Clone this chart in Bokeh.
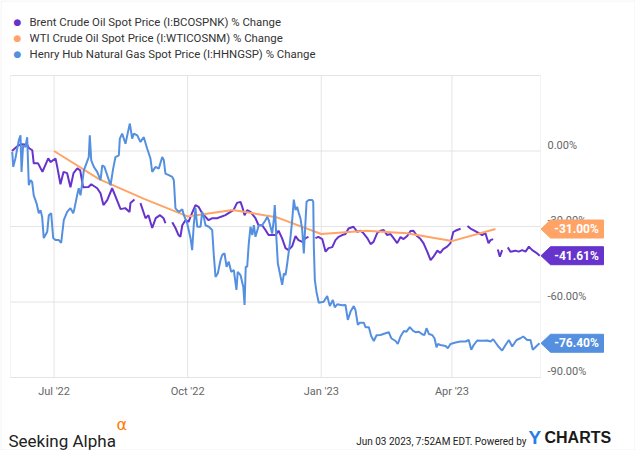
import math
import pandas as pd
from bokeh.plotting import figure
from bokeh.models import Range1d, Label, PolyAnnotation, BoxAnnotation
from bokeh.core.properties import value
from bokeh.embed import file_html
from bokeh.resources import INLINE

NAN = float("nan")
START = "2022-06-01"   # day 0 of the day offsets below; left edge of the plot area
END = "2023-06-01"     # right edge of the plot area

# Brent Crude Oil Spot Price % change: (days since START, % change); NAN = missing data
brent = [
    (1, 0.0), (5.5, 2.3), (8, 2.7), (11.5, 2.5), (12.6, 1.2), (15, 0.3), (16, -4.9), (19, -4.9), (22, -8.3), (23, -6.9),
    (26, -2.9), (27.5, -4.4), (31, -3.0), (32, -5.7), (34.4, -13.2), (36.5, -8.3), (39, -8.8), (41.3, -14.4), (43.4, -8.8), (46, -6.9),
    (48, -7.7), (50, -14.4), (53.7, -14.3), (55.6, -13.2), (59.7, -14.8), (62, -16.8), (64, -21.5), (66.6, -19.5), (70, -14.8), (72.3, -18.0),
    (75.8, -23.1), (79, -22.7), (82, -24.2), (82.6, -20.7), (85.4, -19.3), (87, NAN), (89.5, -20.7), (93, -26.7), (95, -25.5), (97.6, -30.6),
    (100, -26.7), (103, -25.5), (105.4, -26.7), (106.7, -28.7), (109, NAN), (111.4, -28.3), (113.6, -30.6), (115.7, -33.4), (117, -34.1), (118.3, -29.5),
    (120.5, -27.5), (122.6, -28.2), (125, -24.7), (127.4, -21.5), (129.5, -22.2), (132, -24.7), (134.3, -26.2), (136.4, -27.5), (139, -26.7), (142.3, -26.7),
    (144.6, -26.2), (148, -25.5), (151.5, -24.2), (153.6, -23.5), (156, -20.6), (158.4, -20.2), (159.6, -22.2), (161.2, -25.5), (163, -23.5), (165.3, -24.2),
    (168.7, -26.7), (170.8, -29.5), (173.3, -29.5), (175.6, -31.4), (177.7, -33.4), (179, -33.4), (182.5, -33.4), (184.6, -31.7), (187, -34.6), (189.4, -38.6),
    (191.5, -39.4), (194, -37.8), (196.3, -33.8), (198.3, -35.4), (201, -36.1), (203.2, -34.6), (205.2, -34.1), (207.5, NAN), (210, -34.6), (212, -34.1),
    (214.7, -35.0), (217, -40.0), (219, -38.6), (221.6, -38.2), (223.8, -35.4), (226, -34.1), (228.4, -33.4), (230.7, -33.0), (232.8, -30.8), (236.2, -30.1),
    (238.8, -32.1), (241, -31.7), (243, -32.6), (245.7, -34.6), (248, -37.0), (250, -36.1), (252.5, -32.6), (254.8, -31.7), (257, -31.4), (259.4, -33.4),
    (261.7, -33.0), (263.8, -34.6), (266.3, -36.6), (268.6, -34.2), (270.7, -35.0), (273.2, -33.8), (275.5, -31.8), (277.5, -31.7), (280, -33.8), (282.4, -35.0),
    (284.4, -36.6), (287, -40.0), (289.3, -43.4), (291.3, -42.0), (294, -39.6), (296, -40.5), (298, -39.0), (300.7, -38.0), (303, -36.6), (305, -32.1),
    (306.4, -31.7), (308.5, -31.2), (310, -30.9), (312, NAN), (314.7, -29.8), (316.8, -30.8), (318.8, -31.4), (322.3, -32.5), (324.8, -33.4), (327, -32.6),
    (329.2, -36.6), (330.6, -35.4), (332.4, -35.0), (334, NAN), (335.6, -39.1), (337, -42.0), (338.6, -39.4), (340.5, NAN), (342.5, -38.3), (344.3, -40.0),
    (347.8, -39.6), (350, -40.0), (352.4, -39.4), (354.7, -40.0), (357, -38.0), (359.3, -39.4), (362.7, -40.7), (364.5, -41.61),
]

# WTI Crude Oil Spot Price % change (monthly)
wti_dates = ["2022-07-01", "2022-08-01", "2022-09-01", "2022-10-01", "2022-11-01", "2022-12-01",
             "2023-01-01", "2023-02-01", "2023-03-01", "2023-04-01", "2023-05-01"]
wti_values = [0.0, -11.2, -19.0, -26.0, -23.4, -26.3, -33.0, -31.7, -32.7, -35.8, -31.0]

# Henry Hub Natural Gas Spot Price % change: (days since START, % change)
henry = [
    (1.2, -0.4), (1.9, -6.3), (3.4, -2.9), (5.7, 4.2), (6.9, 6.2), (7.6, -8.3), (8.7, 2.3), (10.3, 1.6), (11.5, 5.5), (12.6, -13.6),
    (13.8, -11.6), (14.9, -12.3), (16, -17.6), (17.9, -20.7), (19.5, -24.7), (20.7, -23.5), (21.8, -26.2), (22.9, -34.6), (25.3, -32.1), (26.4, -25.5),
    (28, -24.7), (29.4, -34.6), (31, -35.4), (33.3, -35.4), (34.9, -36.5), (36.7, -27.5), (39, -24.2), (41.3, -22.7), (43.2, -24.7), (44.1, -22.7),
    (45.9, -17.6), (47, -14.8), (48.2, -17.6), (49.4, -12.8), (50.5, -7.7), (52.3, -4.9), (53.9, -2.4), (54.6, 6.2), (55.6, -3.7), (57.4, -6.3),
    (59.7, -8.3), (62, -11.6), (63.2, -5.7), (64.7, -6.3), (66.6, -9.6), (68.9, -13.6), (70.7, -7.0), (72.3, -2.4), (74.6, -1.7), (75.3, 4.9),
    (76.9, 6.9), (79.2, 2.9), (80.4, 6.2), (82.2, 10.9), (83.8, 4.9), (84.9, 6.9), (87.3, 6.2), (89.5, 3.6), (91.8, 5.5), (94.1, 1.0),
    (96.4, -3.0), (97.6, -8.3), (99.9, -6.3), (102.1, -7.0), (104.5, -2.4), (105.6, -3.7), (106.7, -9.0), (109, -9.6), (111.4, -10.3), (112.5, -11.6),
    (113.6, -22.8), (115.9, -24.2), (118.3, -23.2), (119.4, -25.5), (121.7, -28.8), (124, -34.7), (125.1, -39.4), (126.2, -29.5), (127.4, -22.7), (128.6, -30.1),
    (130.9, -30.1), (132, -24.2), (133.1, -26.2), (134.3, -29.5), (136.6, -30.1), (138.9, -31.4), (140, -41.3), (141.2, -50.0), (142.8, -48.6), (144.6, -43.4),
    (145.8, -41.3), (147.4, -40.7), (148.8, -46.0), (150.3, -44.0), (152, -48.0), (153.8, -47.3), (155.6, -55.2), (156.5, -48.0), (158.4, -49.3), (160.3, -53.9),
    (161.2, -61.2), (162, -46.0), (163, -46.0), (164.1, -36.7), (165.3, -30.1), (166.5, -33.4), (167.6, -29.5), (168.7, -34.1), (171, -29.5), (173.3, -29.5),
    (175.6, -27.5), (176.8, -26.2), (177.9, -27.5), (180.2, -32.8), (181.3, -27.5), (182, -21.5), (183.2, -35.4), (184.1, -44.6), (185.5, -48.6), (187.1, -53.2),
    (188.3, -48.6), (189.4, -49.3), (190.6, -44.6), (192.4, -36.7), (194, -27.5), (195.1, -19.3), (196.3, -23.5), (197.4, -22.2), (198.6, -24.8), (199.7, -26.8),
    (200.9, -31.4), (202, -40.7), (203.2, -27.5), (203.9, -20.2), (205.4, -19.5), (207.8, -19.5), (208.5, -20.2), (208.9, -38.1), (209.6, -51.3), (210.7, -55.9),
    (212.3, -60.3), (215.7, -59.9), (218.1, -57.6), (219.9, -61.6), (222, -59.2), (223.3, -62.1), (225, -60.9), (228.4, -61.3), (230.7, -61.2), (232.3, -67.1),
    (234.2, -63.8), (236.4, -61.6), (237.6, -63.2), (239.2, -69.1), (240.6, -68.2), (243.3, -68.2), (244.5, -70.0), (246.8, -70.0), (248.4, -73.5), (250.2, -75.5),
    (252.1, -73.2), (254.8, -73.1), (258.3, -72.4), (260.5, -72.0), (262.2, -74.4), (265.2, -75.5), (266.7, -76.7), (268.6, -73.7), (270.9, -71.5), (272.7, -71.8),
    (275, -70.0), (277.3, -71.5), (278.9, -72.0), (281.2, -71.8), (283.5, -72.8), (285.1, -73.1), (286.5, -70.4), (288.1, -72.7), (290.4, -73.1), (292, -74.4),
    (293.4, -78.0), (294.3, -76.7), (296.1, -77.1), (299.6, -77.5), (301.2, -78.4), (303, -76.7), (306.5, -76.1), (309.9, -75.7), (313.4, -75.7), (315.6, -75.1),
    (317.3, -79.0), (319.1, -77.0), (321.4, -75.3), (324.9, -75.4), (328.3, -75.3), (330.6, -75.7), (332.4, -74.8), (334, -76.1), (336.3, -77.9), (338.6, -79.3),
    (340.9, -77.1), (343.2, -75.1), (345.5, -77.7), (348.5, -75.1), (351.2, -74.4), (353.1, -73.7), (355.8, -75.1), (358.1, -75.1), (359.7, -79.0), (362, -77.7),
    (364.3, -76.4),
]

x_ticks = ["2022-07-01", "2022-10-01", "2023-01-01", "2023-04-01"]
y_grid_ticks = [30, 0, -30, -60, -90]
y_label_ticks = [0, -30, -60, -90]
Y0, Y1 = -90, 30
legend_names = ["Brent Crude Oil Spot Price (I:BCOSPNK) % Change",
                "WTI Crude Oil Spot Price (I:WTICOSNM) % Change",
                "Henry Hub Natural Gas Spot Price (I:HHNGSP) % Change"]

PURPLE = "#6633cc"
ORANGE = "#ffa366"
BLUE = "#5590e0"
FONT = "Roboto"
GRID = "#e4e4e4"
TICK_TEXT = "#666666"

# layout (canvas pixels): plot area inside the 635x450 canvas
W, H = 635, 450
A_LEFT, A_RIGHT, A_TOP, A_BOTTOM = 10, 540, 75, 377


def ms(s):
    return pd.Timestamp(s).value // 10**6


x_lo, x_hi = ms(START), ms(END)
ms_per_px = (x_hi - x_lo) / (A_RIGHT - A_LEFT)
pct_per_px = (Y1 - Y0) / (A_BOTTOM - A_TOP)


def sx(cx):
    # screen units: from the canvas' left edge
    return cx


def sy(cy):
    # screen units: measured upwards from the canvas' bottom edge
    return H - cy


def to_dates(days):
    return pd.Timestamp(START) + pd.to_timedelta(days, unit="D")


brent_x = to_dates([d for d, _ in brent])
brent_y = [v for _, v in brent]
henry_x = to_dates([d for d, _ in henry])
henry_y = [v for _, v in henry]
wti_x = pd.to_datetime(wti_dates)

p = figure(width=W, height=H,
           x_range=Range1d(x_lo - A_LEFT * ms_per_px, x_hi + (W - A_RIGHT) * ms_per_px),
           y_range=Range1d(Y0 - (H - A_BOTTOM) * pct_per_px, Y1 + A_TOP * pct_per_px),
           x_axis_location=None, y_axis_location=None,
           toolbar_location=None, output_backend="svg",
           min_border=0, background_fill_color="white", border_fill_color="white")
p.outline_line_color = None
p.grid.visible = False

# plot-area gridlines
xt = [ms(t) for t in x_ticks]
p.segment(x0=xt, y0=[Y0] * len(xt), x1=xt, y1=[Y1] * len(xt), line_color=GRID, line_width=1)
p.segment(x0=[x_lo] * len(y_grid_ticks), y0=y_grid_ticks, x1=[x_hi] * len(y_grid_ticks), y1=y_grid_ticks,
          line_color=GRID, line_width=1)
p.add_layout(BoxAnnotation(left=x_lo, right=x_hi, bottom=Y0, top=Y1, fill_alpha=0,
                           line_color="#d6d6d6", line_width=1, level="underlay"))

# tick labels
p.text(x=xt, y=[Y0] * len(xt), text=[pd.Timestamp(t).strftime("%b '%y") for t in x_ticks],
       text_font=value(FONT), text_font_size=value("11px"), text_color=TICK_TEXT,
       text_align="center", text_baseline="middle", y_offset=14)
p.text(x=[x_hi] * len(y_label_ticks), y=y_label_ticks, text=[f"{t:.2f}%" for t in y_label_ticks],
       text_font=value(FONT), text_font_size=value("11px"), text_color=TICK_TEXT,
       text_align="left", text_baseline="middle", x_offset=7, y_offset=-6)

# series
p.line(brent_x, brent_y, line_color=PURPLE, line_width=2)
p.line(wti_x, wti_values, line_color=ORANGE, line_width=2)
p.line(henry_x, henry_y, line_color=BLUE, line_width=2)

# end-value tags
half = 9 * pct_per_px


def last_valid(vals):
    return [v for v in vals if not math.isnan(v)][-1]


for vals, col in [(wti_values, ORANGE), (brent_y, PURPLE), (henry_y, BLUE)]:
    v = last_valid(vals)
    p.add_layout(PolyAnnotation(xs=[sx(540.5), sx(550), sx(603), sx(603), sx(550)],
                                ys=[v, v + half, v + half, v - half, v - half],
                                xs_units="screen", ys_units="data",
                                fill_color=col, fill_alpha=1, line_color=col, line_alpha=1))
    p.add_layout(Label(x=sx(576), y=v, x_units="screen", y_units="data", text=f"{v:.2f}%",
                       text_color="white", text_font=FONT, text_font_style="bold",
                       text_font_size="12px", text_align="center", text_baseline="middle"))

# legend
for i, (name, col) in enumerate(zip(legend_names, [PURPLE, ORANGE, BLUE])):
    yy = 21 + 16 * i
    p.add_layout(Label(x=sx(17), y=sy(yy), x_units="screen", y_units="screen", text="\u25cf",
                       text_color=col, text_font="DejaVu Sans", text_font_size="9px",
                       text_align="center", text_baseline="middle"))
    p.add_layout(Label(x=sx(29), y=sy(yy), x_units="screen", y_units="screen", text=name,
                       text_color="#333333", text_font=FONT, text_font_size="11.4px",
                       text_align="left", text_baseline="middle"))

# footer
p.add_layout(Label(x=sx(8), y=sy(440), x_units="screen", y_units="screen", text="Seeking Alpha",
                   text_color="#222222", text_font=FONT, text_font_size="17px",
                   text_baseline="alphabetic"))
p.add_layout(Label(x=sx(116), y=sy(424), x_units="screen", y_units="screen", text="\u03b1",
                   text_color="#ff7a00", text_font="DejaVu Sans", text_font_size="16px",
                   text_baseline="middle"))
p.add_layout(Label(x=sx(472), y=sy(441), x_units="screen", y_units="screen", text="Jun 03 2023, 7:52AM EDT.",
                   text_color="#222222", text_font=FONT, text_font_size="10px",
                   text_align="right", text_baseline="alphabetic"))
p.add_layout(Label(x=sx(526), y=sy(441), x_units="screen", y_units="screen", text="Powered by",
                   text_color="#222222", text_font=FONT, text_font_size="10px",
                   text_align="right", text_baseline="alphabetic"))
p.add_layout(Label(x=sx(528), y=sy(437), x_units="screen", y_units="screen", text="Y",
                   text_color="#2a7de1", text_font="Liberation Sans", text_font_style="bold",
                   text_font_size="19px", text_baseline="middle"))
p.add_layout(Label(x=sx(544), y=sy(437), x_units="screen", y_units="screen", text="CHARTS",
                   text_color="#1a1a1a", text_font="Liberation Sans", text_font_style="bold",
                   text_font_size="16px", text_baseline="middle"))

# outer frame
p.add_layout(BoxAnnotation(left=sx(0.5), right=sx(W - 0.5), top=sy(0.5), bottom=sy(H - 0.5),
                           left_units="screen", right_units="screen", top_units="screen", bottom_units="screen",
                           fill_alpha=0, line_color="#cfcfcf", line_width=1))

open("out.html", "w").write(file_html(p, INLINE))
